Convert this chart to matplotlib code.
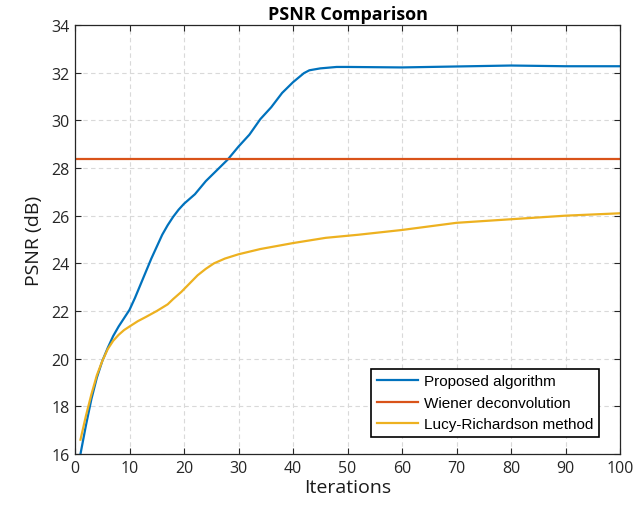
import numpy as np
import matplotlib.pyplot as plt

plt.rcParams['font.family'] = ['Open Sans', 'DejaVu Sans']

iters_prop = [1, 2, 3, 4, 5, 6, 7, 8, 9, 10, 11, 12, 14, 16, 17, 18, 19, 20,
              22, 24, 26, 28, 30, 32, 34, 36, 38, 40, 42, 43, 45, 48, 50, 55,
              60, 70, 80, 90, 100]
psnr_prop = [16.0, 17.2, 18.3, 19.2, 19.9, 20.45, 20.95, 21.35, 21.7, 22.05,
             22.55, 23.1, 24.2, 25.2, 25.6, 25.95, 26.25, 26.5, 26.9, 27.45,
             27.9, 28.35, 28.9, 29.4, 30.05, 30.55, 31.15, 31.6, 31.98, 32.1,
             32.18, 32.24, 32.24, 32.23, 32.22, 32.26, 32.3, 32.27, 32.27]

psnr_wiener = 28.37

iters_lr = [1, 2, 3, 4, 5, 6, 7, 8, 9, 10, 11.5, 13, 15, 17, 18, 19.5, 21,
            22.5, 24, 25.5, 27.5, 30, 34, 40, 46, 52, 60, 70, 80, 90, 100]
psnr_lr = [16.6, 17.6, 18.5, 19.3, 19.9, 20.4, 20.75, 21.0, 21.2, 21.35,
           21.57, 21.75, 22.0, 22.28, 22.5, 22.8, 23.15, 23.5, 23.77, 24.0,
           24.2, 24.38, 24.6, 24.85, 25.07, 25.2, 25.4, 25.7, 25.85, 26.0,
           26.1]

labels = ['Proposed algorithm', 'Wiener deconvolution', 'Lucy-Richardson method']
colors = ['#0072BD', '#D95319', '#EDB120']

fig = plt.figure(figsize=(6.38, 5.06), dpi=100)
ax = fig.add_axes([0.1176, 0.1008, 0.8542, 0.8478])

ax.plot(iters_prop, psnr_prop, color=colors[0], lw=1.6, label=labels[0])
ax.plot([0, 100], [psnr_wiener, psnr_wiener], color=colors[1], lw=1.6, label=labels[1])
ax.plot(iters_lr, psnr_lr, color=colors[2], lw=1.6, label=labels[2])

ax.set_xlim(0, 100)
ax.set_ylim(16, 34)
ax.set_xticks(np.arange(0, 101, 10))
ax.set_yticks(np.arange(16, 35, 2))
ax.grid(True, ls=(0, (4, 3)), color='#d9d9d9', lw=0.8)
ax.set_axisbelow(True)
ax.tick_params(direction='in', top=True, right=True, labelsize=11.5,
               length=4, width=0.8, colors='#262626', pad=4)
for side in ax.spines.values():
    side.set_color('#262626')
    side.set_linewidth(0.9)

ax.set_xlabel('Iterations', fontsize=14, color='#1a1a1a', labelpad=2)
ax.set_ylabel('PSNR (dB)', fontsize=14, color='#1a1a1a', labelpad=6)
ax.set_title('PSNR Comparison', fontsize=13, fontweight='bold', color='#000000', pad=4)

leg = ax.legend(loc='lower right', bbox_to_anchor=(0.961, 0.04), borderaxespad=0,
                fancybox=False, edgecolor='black', framealpha=1, handlelength=2.7,
                borderpad=0.35, labelspacing=0.5, handletextpad=0.4,
                prop={'family': 'Liberation Sans', 'size': 11})
leg.get_frame().set_linewidth(1.2)

fig.savefig('out.png', dpi=100)
